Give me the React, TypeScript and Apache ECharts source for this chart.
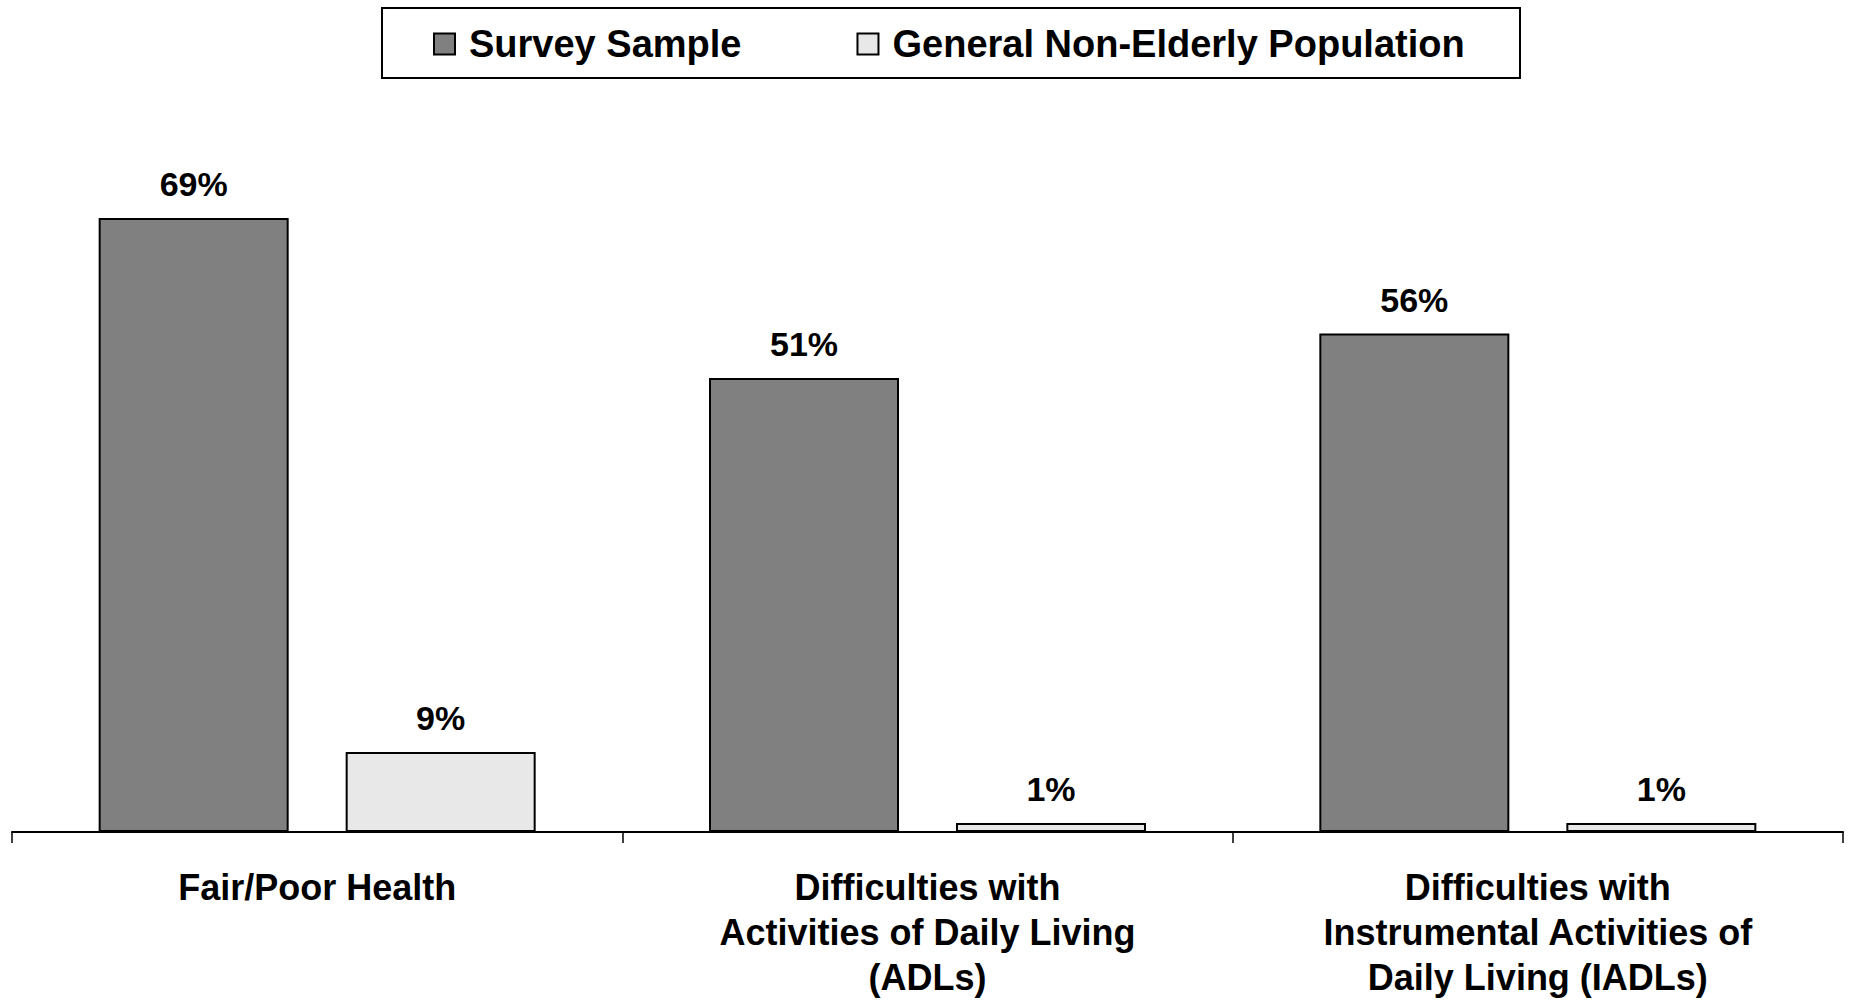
import React, { useEffect, useRef } from "react";
import * as echarts from "echarts";

const categories = [
  "Fair/Poor Health",
  "Difficulties with\nActivities of Daily Living\n(ADLs)",
  "Difficulties with\nInstrumental Activities of\nDaily Living (IADLs)",
];
const seriesNames = ["Survey Sample", "General Non-Elderly Population"];
const surveySample = [69, 51, 56];
const generalPopulation = [9, 1, 1];

const FONT = '"Liberation Sans", Arial, Helvetica, sans-serif';

export default function App() {
  const ref = useRef<HTMLDivElement>(null);
  useEffect(() => {
    if (!ref.current) return;
    const chart = echarts.init(ref.current, null, { renderer: "svg" });
    const valueLabel = {
      show: true,
      position: "top",
      distance: 17,
      formatter: "{c}%",
      color: "#000",
      fontFamily: FONT,
      fontWeight: "bold",
      fontSize: 34,
      lineHeight: 34,
    };
    chart.setOption({
      animation: false,
      backgroundColor: "#fff",
      graphic: [
        {
          type: "rect",
          shape: { x: 382, y: 8, width: 1138, height: 70 },
          style: { fill: "#fff", stroke: "#000", lineWidth: 2 },
          z: -1,
        },
      ],
      legend: {
        left: 433,
        top: 25,
        padding: 0,
        itemWidth: 21,
        itemHeight: 21,
        itemGap: 115,
        icon: "rect",
        data: seriesNames,
        textStyle: {
          color: "#000",
          fontFamily: FONT,
          fontWeight: "bold",
          fontSize: 38,
          padding: [0, 0, 0, 9],
        },
      },
      grid: { left: 12, right: 8, top: 120, bottom: 163, containLabel: false },
      xAxis: {
        type: "category",
        data: categories,
        axisLine: { show: true, lineStyle: { color: "#000", width: 2 } },
        axisTick: { show: true, length: 11, lineStyle: { color: "#000", width: 1.5 } },
        axisLabel: {
          interval: 0,
          margin: 33,
          color: "#000",
          fontFamily: FONT,
          fontWeight: "bold",
          fontSize: 36,
          lineHeight: 45,
          align: "center",
        },
      },
      yAxis: {
        type: "value",
        min: 0,
        max: 80,
        show: false,
        splitLine: { show: false },
      },
      series: [
        {
          name: seriesNames[0],
          type: "bar",
          data: surveySample,
          barWidth: 190,
          barGap: "30%",
          itemStyle: { color: "#808080", borderColor: "#000", borderWidth: 2 },
          label: valueLabel,
        },
        {
          name: seriesNames[1],
          type: "bar",
          data: generalPopulation,
          barWidth: 190,
          barGap: "30%",
          itemStyle: { color: "#E8E8E8", borderColor: "#000", borderWidth: 2 },
          label: valueLabel,
        },
      ],
    });
    return () => chart.dispose();
  }, []);
  return (
    <div
      ref={ref}
      style={{ position: "fixed", left: 0, top: 0, width: 1851, height: 1000, background: "#fff" }}
    />
  );
}
